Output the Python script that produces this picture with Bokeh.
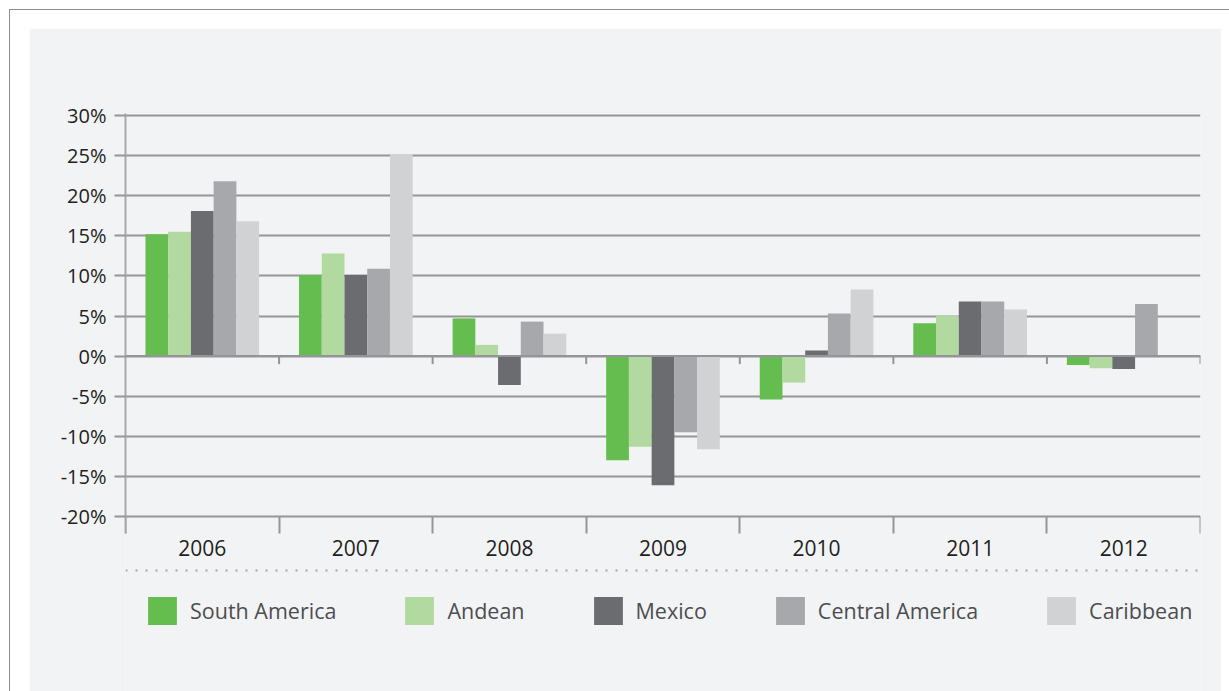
from bokeh.plotting import figure
from bokeh.models import (Range1d, LinearAxis, FixedTicker, PrintfTickFormatter, Grid,
                          ColumnDataSource, Legend, LegendItem, Span)
from bokeh.transform import dodge
from bokeh.embed import file_html
from bokeh.resources import INLINE

# Annual change by region, in percent
years = ["2006", "2007", "2008", "2009", "2010", "2011", "2012"]
regions = ["South America", "Andean", "Mexico", "Central America", "Caribbean"]
south_america = [15.2, 10.1, 4.7, -13.0, -5.4, 4.1, -1.1]
andean = [15.5, 12.8, 1.4, -11.3, -3.3, 5.0, -1.5]
mexico = [18.1, 10.1, -3.6, -16.1, 0.7, 6.8, -1.6]
central_america = [21.8, 10.9, 4.3, -9.5, 5.3, 6.8, 6.5]
caribbean = [16.8, 25.2, 2.8, -11.6, 8.3, 5.8, float("nan")]
series = [south_america, andean, mexico, central_america, caribbean]
colors = ["#65bc4f", "#b2d99f", "#6b6c70", "#a7a8ab", "#d1d2d4"]
y_ticks = [-20, -15, -10, -5, 0, 5, 10, 15, 20, 25, 30]

PANEL = "#f2f3f5"
GRID = "#939598"
FONT = "Open Sans"

# value axis spans Y_LOW..Y_HIGH; the frame continues below it to hold the legend
Y_LOW, Y_HIGH = -22.12, 30.25
p = figure(width=1192, height=663, output_backend="svg", toolbar_location=None,
           x_range=Range1d(0, len(years)), y_range=Range1d(-41.82, Y_HIGH),
           x_axis_type=None, y_axis_type=None,
           min_border_left=96, min_border_right=21, min_border_top=85, min_border_bottom=0,
           background_fill_color=PANEL, border_fill_color=PANEL, outline_line_color=None)
# panel sits inside a white page with a thin rule along its top and left
p.margin = (28, 0, 0, 29)
p.styles = {"box-shadow": "11px 12px 0 30px #ffffff, 11px 12px 0 31px #8c8d90"}

# y axis with percent labels
yaxis = LinearAxis(ticker=FixedTicker(ticks=y_ticks), formatter=PrintfTickFormatter(format="%d%%"),
                   bounds=(Y_LOW, Y_HIGH),
                   axis_line_color="#a7a9ac", axis_line_width=2,
                   major_tick_out=11, major_tick_in=0, major_tick_line_color=GRID,
                   major_tick_line_width=2, minor_tick_line_color=None,
                   major_label_text_font=FONT, major_label_text_font_size="20px",
                   major_label_text_color="#231f20", major_label_standoff=8)
p.add_layout(yaxis, "left")
p.add_layout(Grid(dimension=1, ticker=yaxis.ticker, grid_line_color=GRID, grid_line_width=2))

# x axis: year labels at group centres, separator ticks between groups
centres = [i + 0.5 for i in range(len(years))]
bounds = list(range(len(years) + 1))
xaxis = LinearAxis(ticker=FixedTicker(ticks=centres, minor_ticks=bounds),
                   fixed_location=Y_LOW,
                   major_label_overrides={c: y for c, y in zip(centres, years)},
                   axis_line_color=None, major_tick_line_color=None,
                   minor_tick_in=17, minor_tick_out=0, minor_tick_line_color=GRID,
                   minor_tick_line_width=2,
                   major_label_text_font=FONT, major_label_text_font_size="21px",
                   major_label_text_color="#231f20", major_label_standoff=0)
p.add_layout(xaxis, "below")

# bars
bar_w = 0.148
source = ColumnDataSource(dict(x=centres, **{f"s{j}": s for j, s in enumerate(series)}))
renderers = []
for j, (name, color) in enumerate(zip(regions, colors)):
    r = p.vbar(x=dodge("x", (j - 2) * bar_w, range=p.x_range), top=f"s{j}", bottom=0,
               width=bar_w, source=source, fill_color=color, line_color=None)
    renderers.append(r)

# zero baseline with separator ticks
p.add_layout(Span(location=0, dimension="width", line_color=GRID, line_width=2))
p.segment(x0=bounds[1:], y0=[0] * len(years), x1=bounds[1:], y1=[-1.0] * len(years),
          line_color=GRID, line_width=2)

# dotted rule between the axis labels and the legend
p.add_layout(Span(location=-26.73, dimension="width", line_color="#a3a4a7",
                  line_width=2, line_dash="2 8"))

# legend
legend = Legend(items=[LegendItem(label=n, renderers=[r]) for n, r in zip(regions, renderers)],
                location=(19, 63), orientation="horizontal",
                glyph_width=36, glyph_height=35, label_standoff=10, spacing=65,
                padding=0, margin=0, border_line_color=None, background_fill_alpha=0,
                label_text_font=FONT, label_text_font_size="21.5px", label_text_color="#4d4d4f")
p.add_layout(legend, "center")

open("out.html", "w").write(file_html(p, INLINE))
